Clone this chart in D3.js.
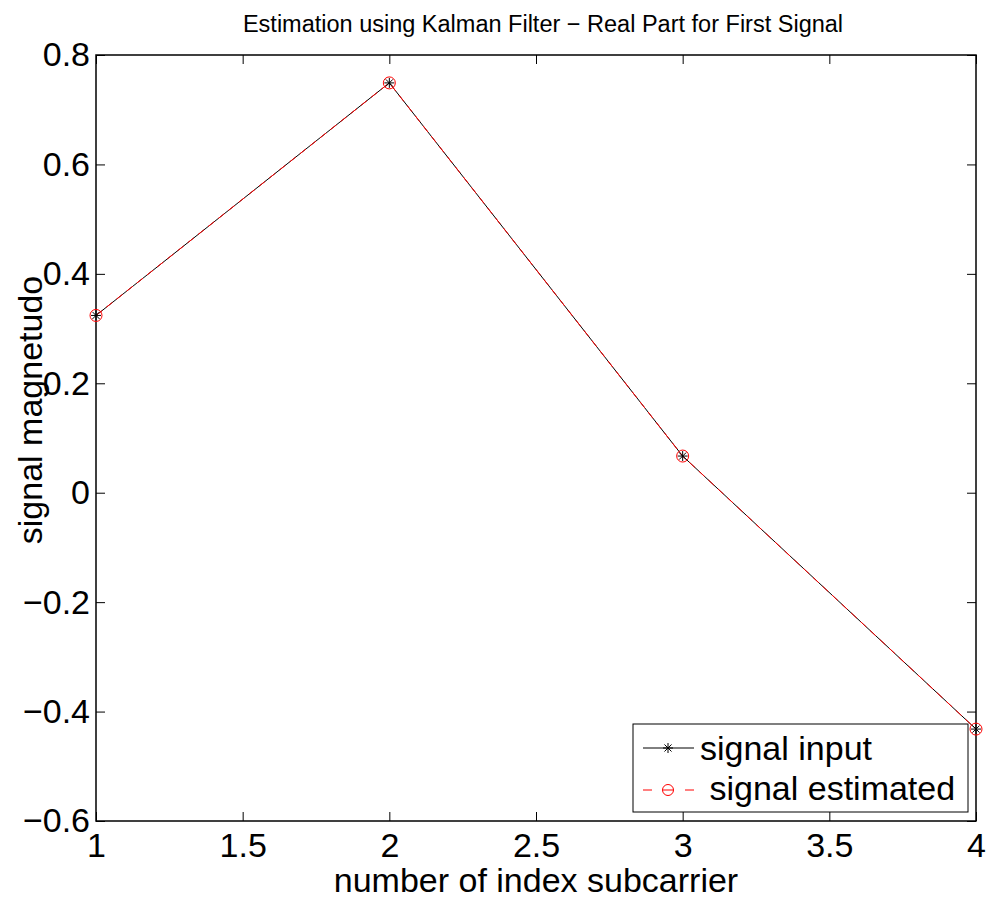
<!DOCTYPE html>
<html>
<head>
<meta charset="utf-8">
<script src="https://cdn.jsdelivr.net/npm/d3@7.9.0/dist/d3.min.js"></script>
<style>
  body { margin: 0; background: #fff; }
  svg { font-family: "Liberation Sans", Arial, sans-serif; }
</style>
</head>
<body>
<div id="chart"></div>
<script>
const xValues = [1, 2, 3, 4];
const signalInput = [0.324, 0.749, 0.067, -0.432];
const signalEstimated = [0.324, 0.749, 0.067, -0.432];
const xTicks = [1, 1.5, 2, 2.5, 3, 3.5, 4];
const yTicks = [-0.6, -0.4, -0.2, 0, 0.2, 0.4, 0.6, 0.8];
const titleText = "Estimation using Kalman Filter \u2212 Real Part for First Signal";
const xLabel = "number of index subcarrier";
const yLabel = "signal magnetudo";
const legendLabels = ["signal input", " signal estimated"];

const width = 989;
const height = 905;
const area = { left: 96, right: 976, top: 55, bottom: 821 };
const fontSize = 34;

const svg = d3.select("#chart").append("svg")
  .attr("width", width)
  .attr("height", height);

const x = d3.scaleLinear().domain([1, 4]).range([area.left, area.right]);
const y = d3.scaleLinear().domain([-0.6, 0.8]).range([area.bottom, area.top]);

const fmt = (d) => String(d).replace("-", "\u2212");

// frame
svg.append("rect")
  .attr("x", area.left).attr("y", area.top)
  .attr("width", area.right - area.left)
  .attr("height", area.bottom - area.top)
  .attr("fill", "none").attr("stroke", "#000").attr("stroke-width", 1.5);

const tickLen = 9;
const axisStyle = (g) => {
  g.select(".domain").remove();
  g.selectAll(".tick line").attr("stroke", "#000");
  g.selectAll(".tick text").attr("font-size", fontSize).attr("fill", "#000");
};

svg.append("g").attr("transform", `translate(0,${area.bottom})`)
  .call(d3.axisBottom(x).tickValues(xTicks).tickFormat(fmt).tickSizeInner(-tickLen).tickPadding(12))
  .call(axisStyle);
svg.append("g").attr("transform", `translate(0,${area.top})`)
  .call(d3.axisTop(x).tickValues(xTicks).tickFormat("").tickSizeInner(-tickLen))
  .call(axisStyle);
svg.append("g").attr("transform", `translate(${area.left},0)`)
  .call(d3.axisLeft(y).tickValues(yTicks).tickFormat(fmt).tickSizeInner(-tickLen).tickPadding(6))
  .call(axisStyle);
svg.append("g").attr("transform", `translate(${area.right},0)`)
  .call(d3.axisRight(y).tickValues(yTicks).tickFormat("").tickSizeInner(-tickLen))
  .call(axisStyle);

// series
const inputPts = xValues.map((d, i) => [d, signalInput[i]]);
const estPts = xValues.map((d, i) => [d, signalEstimated[i]]);
const line = d3.line().x((d) => x(d[0])).y((d) => y(d[1]));

svg.append("path").datum(inputPts).attr("d", line)
  .attr("fill", "none").attr("stroke", "#000").attr("stroke-width", 1);
svg.append("path").datum(estPts).attr("d", line)
  .attr("fill", "none").attr("stroke", "#ff0000").attr("stroke-width", 1)
  .attr("stroke-dasharray", "8,5");

function asterisk(g, cx, cy, r) {
  for (let a = 0; a < 180; a += 45) {
    const rad = a * Math.PI / 180;
    g.append("line")
      .attr("x1", cx - r * Math.cos(rad)).attr("y1", cy - r * Math.sin(rad))
      .attr("x2", cx + r * Math.cos(rad)).attr("y2", cy + r * Math.sin(rad))
      .attr("stroke", "#000").attr("stroke-width", 1);
  }
}

const marks = svg.append("g");
inputPts.forEach((d) => asterisk(marks, x(d[0]), y(d[1]), 5));
marks.selectAll("circle").data(estPts).join("circle")
  .attr("cx", (d) => x(d[0])).attr("cy", (d) => y(d[1])).attr("r", 6)
  .attr("fill", "none").attr("stroke", "#ff0000").attr("stroke-width", 1);

// title and labels
svg.append("text").attr("x", 543).attr("y", 32).attr("text-anchor", "middle")
  .attr("font-size", 23.5).text(titleText);
svg.append("text").attr("x", 536).attr("y", 892).attr("text-anchor", "middle")
  .attr("font-size", fontSize).text(xLabel);
svg.append("text").attr("transform", "translate(42,410) rotate(-90)")
  .attr("text-anchor", "middle").attr("font-size", fontSize).text(yLabel);

// legend
const lg = svg.append("g");
lg.append("rect").attr("x", 633).attr("y", 724).attr("width", 335).attr("height", 88)
  .attr("fill", "#fff").attr("stroke", "#000").attr("stroke-width", 1);
lg.append("line").attr("x1", 643).attr("x2", 694).attr("y1", 748).attr("y2", 748)
  .attr("stroke", "#000").attr("stroke-width", 1);
asterisk(lg, 668, 748, 5);
lg.append("line").attr("x1", 643).attr("x2", 694).attr("y1", 790).attr("y2", 790)
  .attr("stroke", "#ff0000").attr("stroke-width", 1).attr("stroke-dasharray", "9,33");
lg.append("circle").attr("cx", 668).attr("cy", 790).attr("r", 5.5)
  .attr("fill", "none").attr("stroke", "#ff0000").attr("stroke-width", 1);
lg.append("line").attr("x1", 662.5).attr("x2", 673.5).attr("y1", 790).attr("y2", 790)
  .attr("stroke", "#ff0000").attr("stroke-width", 1);
lg.append("text").attr("x", 700).attr("y", 760).attr("font-size", fontSize).text(legendLabels[0]);
lg.append("text").attr("x", 700).attr("y", 800).attr("font-size", fontSize)
  .attr("xml:space", "preserve").style("white-space", "pre").text(legendLabels[1]);
</script>
</body>
</html>
